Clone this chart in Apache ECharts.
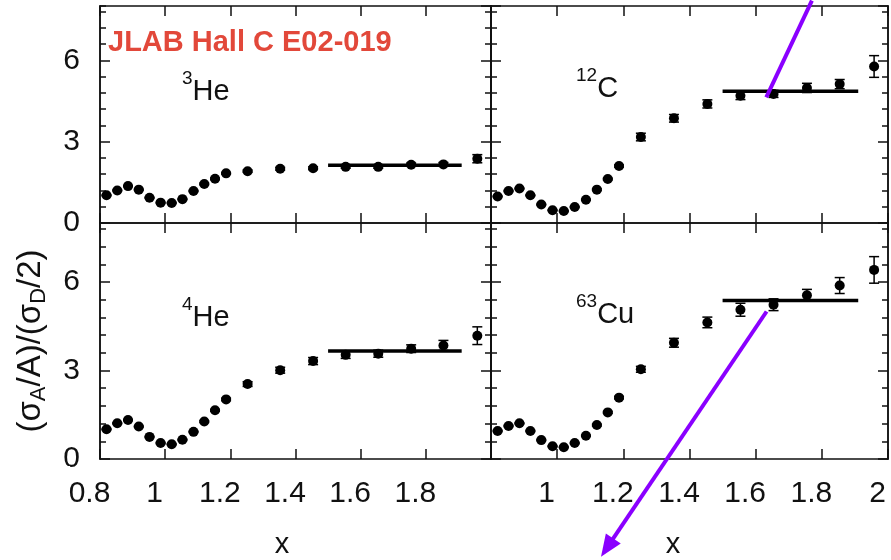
<!DOCTYPE html>
<html>
<head>
<meta charset="utf-8">
<script src="https://cdn.jsdelivr.net/npm/echarts@6/dist/echarts.min.js"></script>
<style>
  html, body { margin: 0; padding: 0; background: #fff; }
  #chart { width: 891px; height: 560px; }
</style>
</head>
<body>
<div id="chart"></div>
<script>
// Bjorken-x bins shared by all four targets
const xBins = [0.82, 0.853, 0.886, 0.919, 0.952, 0.986, 1.02, 1.053, 1.087, 1.12,
               1.153, 1.187, 1.253, 1.353, 1.454, 1.554, 1.654, 1.755, 1.854, 1.958];

// Per-nucleon cross-section ratio to the deuteron, and its uncertainty
const he3Ratio = [1.02, 1.20, 1.36, 1.23, 0.93, 0.75, 0.74, 0.88, 1.18, 1.44,
                  1.63, 1.83, 1.91, 2.00, 2.02, 2.07, 2.07, 2.15, 2.16, 2.37];
const he3Err   = [0.02, 0.02, 0.02, 0.02, 0.02, 0.02, 0.02, 0.02, 0.02, 0.03,
                  0.03, 0.03, 0.04, 0.05, 0.05, 0.05, 0.05, 0.06, 0.07, 0.15];

const c12Ratio = [0.98, 1.18, 1.27, 1.02, 0.68, 0.47, 0.44, 0.59, 0.86, 1.23,
                  1.62, 2.10, 3.17, 3.86, 4.39, 4.69, 4.76, 4.98, 5.12, 5.77];
const c12Err   = [0.02, 0.02, 0.02, 0.02, 0.02, 0.02, 0.02, 0.02, 0.02, 0.03,
                  0.03, 0.04, 0.14, 0.14, 0.15, 0.14, 0.13, 0.17, 0.17, 0.40];

const he4Ratio = [1.01, 1.21, 1.32, 1.10, 0.75, 0.54, 0.50, 0.65, 0.92, 1.27,
                  1.65, 2.02, 2.54, 3.01, 3.32, 3.53, 3.57, 3.74, 3.85, 4.18];
const he4Err   = [0.02, 0.02, 0.02, 0.02, 0.02, 0.02, 0.02, 0.02, 0.02, 0.03,
                  0.03, 0.04, 0.08, 0.10, 0.12, 0.12, 0.12, 0.13, 0.17, 0.30];

const cu63Ratio = [0.95, 1.12, 1.21, 0.95, 0.64, 0.43, 0.40, 0.54, 0.79, 1.15,
                   1.58, 2.08, 3.04, 3.94, 4.63, 5.06, 5.23, 5.55, 5.88, 6.41];
const cu63Err   = [0.02, 0.02, 0.02, 0.02, 0.02, 0.02, 0.02, 0.02, 0.02, 0.03,
                   0.03, 0.04, 0.10, 0.15, 0.18, 0.22, 0.20, 0.20, 0.27, 0.45];

// Plateau fits over the 1.5 < x < 1.9 region
const fitRange  = [1.5, 1.91];
const fitLevels = [2.13, 4.86, 3.66, 5.37];   // 3He, 12C, 4He, 63Cu

// Panel order: top-left, top-right, bottom-left, bottom-right
const massNumbers = ['3', '12', '4', '63'];
const elements    = ['He', 'C', 'He', 'Cu'];
const ratios      = [he3Ratio, c12Ratio, he4Ratio, cu63Ratio];
const errors      = [he3Err, c12Err, he4Err, cu63Err];

const xRange = [0.8, 2.0];
const xStep  = 0.2;
const yRange = [0, 8];
const yMajor = 3;
const yMinor = 0.6;

const FONT = '"Liberation Sans", Arial, Helvetica, sans-serif';
const INK = '#111';
const VIOLET = '#8a00ff';

const grids = [
  { left: 100, top: 6,   width: 391, height: 217 },
  { left: 491, top: 6,   width: 397, height: 217 },
  { left: 100, top: 223, width: 391, height: 237 },
  { left: 491, top: 223, width: 397, height: 237 }
];

const frameLine = { show: true, onZero: false, lineStyle: { color: INK, width: 1.5 } };
const tickStyle = { color: INK, width: 1.5 };

const xAxis = [];
const yAxis = [];
grids.forEach((g, i) => {
  const bottomRow = i >= 2;
  const leftCol = i % 2 === 0;
  const xBase = {
    gridIndex: i, type: 'value', min: xRange[0], max: xRange[1], interval: xStep,
    splitLine: { show: false }, axisLine: frameLine,
    axisTick: { show: true, inside: true, length: 10, lineStyle: tickStyle }
  };
  xAxis.push(Object.assign({}, xBase, {
    position: 'bottom',
    axisLabel: bottomRow ? {
      show: true, fontSize: 30, color: INK, fontFamily: FONT, margin: 20,
      padding: [0, 21, 0, 0], showMinLabel: leftCol, showMaxLabel: !leftCol
    } : { show: false },
    name: bottomRow ? 'x' : '',
    nameLocation: 'middle', nameGap: 71,
    nameTextStyle: { fontSize: 29, color: INK, fontFamily: FONT, padding: [0, leftCol ? 27 : 33, 0, 0] }
  }));
  xAxis.push(Object.assign({}, xBase, { position: 'top', axisLabel: { show: false } }));

  const yBase = {
    gridIndex: i, type: 'value', min: yRange[0], max: yRange[1],
    splitLine: { show: false }, axisLine: frameLine
  };
  const majorTick = { show: true, inside: true, length: 10, lineStyle: tickStyle };
  const minorTick = { show: true, inside: true, length: 6, lineStyle: tickStyle };
  const leftMajor = Object.assign({}, yBase, {
    position: 'left', interval: yMajor, axisTick: majorTick,
    axisLabel: leftCol ? {
      show: true, fontSize: 30, color: INK, fontFamily: FONT, margin: 20, showMaxLabel: false
    } : { show: false }
  });
  if (i === 2) {
    Object.assign(leftMajor, {
      name: '{m|(σ}{s|A}{m|/A)/(σ}{s|D}{m|/2)}',
      nameLocation: 'middle', nameGap: 50, nameRotate: 90,
      nameTextStyle: {
        rich: {
          m: { fontSize: 33, lineHeight: 38, color: INK, fontFamily: FONT },
          s: { fontSize: 22, lineHeight: 20, verticalAlign: 'bottom', color: INK, fontFamily: FONT }
        }
      }
    });
  }
  yAxis.push(leftMajor);
  yAxis.push(Object.assign({}, yBase, { position: 'left', interval: yMinor, axisTick: minorTick, axisLabel: { show: false } }));
  yAxis.push(Object.assign({}, yBase, { position: 'right', interval: yMajor, axisTick: majorTick, axisLabel: { show: false } }));
  yAxis.push(Object.assign({}, yBase, { position: 'right', interval: yMinor, axisTick: minorTick, axisLabel: { show: false } }));
});

// Vertical error bar with short caps
function renderErrorBar(params, api) {
  const x = api.value(0);
  const lo = api.coord([x, api.value(1)]);
  const hi = api.coord([x, api.value(2)]);
  const hw = 5;
  const style = { stroke: '#000', lineWidth: 1.5 };
  return {
    type: 'group',
    children: [
      { type: 'line', shape: { x1: hi[0], y1: hi[1], x2: lo[0], y2: lo[1] }, style },
      { type: 'line', shape: { x1: hi[0] - hw, y1: hi[1], x2: hi[0] + hw, y2: hi[1] }, style },
      { type: 'line', shape: { x1: lo[0] - hw, y1: lo[1], x2: lo[0] + hw, y2: lo[1] }, style }
    ]
  };
}

const series = [];
ratios.forEach((r, i) => {
  const xi = 2 * i, yi = 4 * i;
  series.push({
    type: 'scatter', xAxisIndex: xi, yAxisIndex: yi,
    symbol: 'circle', symbolSize: 10, itemStyle: { color: '#000', opacity: 1 }, z: 3,
    data: xBins.map((x, k) => [x, r[k]])
  });
  series.push({
    type: 'custom', xAxisIndex: xi, yAxisIndex: yi, z: 2,
    renderItem: renderErrorBar,
    encode: { x: 0, y: [1, 2] },
    data: xBins.map((x, k) => [x, r[k] - errors[i][k], r[k] + errors[i][k]])
  });
  series.push({
    type: 'line', xAxisIndex: xi, yAxisIndex: yi, z: 4,
    symbol: 'none', lineStyle: { color: '#000', width: 3.5 },
    data: fitRange.map(x => [x, fitLevels[i]])
  });
});

// Target labels: mass number as a superscript
const labelPos = [[182, 69], [576, 66], [182, 295], [576, 292]];
const titles = [{
  text: 'JLAB Hall C E02-019', left: 108, top: 28, padding: 0,
  textStyle: { color: '#e2483a', fontSize: 29, fontWeight: 'bold', fontFamily: FONT }
}];
massNumbers.forEach((a, i) => {
  titles.push({
    text: '{sup|' + a + '}{main|' + elements[i] + '}',
    left: labelPos[i][0], top: labelPos[i][1], padding: 0,
    textStyle: {
      fontWeight: 'normal',
      rich: {
        sup: { fontSize: 19, lineHeight: 20, verticalAlign: 'top', color: INK, fontFamily: FONT, fontWeight: 'normal' },
        main: { fontSize: 29, lineHeight: 46, color: INK, fontFamily: FONT, fontWeight: 'normal' }
      }
    }
  });
});

const chart = echarts.init(document.getElementById('chart'), null, { renderer: 'canvas' });
chart.setOption({
  animation: false,
  backgroundColor: '#fff',
  title: titles,
  grid: grids,
  xAxis: xAxis,
  yAxis: yAxis,
  series: series
});

// Annotation arrows, anchored in the 12C and 63Cu panel coordinates
const topArrow    = { series: 3, from: [1.77, 8.2],  to: [1.632, 4.63] };
const bottomArrow = { series: 9, from: [1.633, 5.0], to: [1.1325, -3.31] };

function px(a, p) { return chart.convertToPixel({ seriesIndex: a.series }, p); }

const t0 = px(topArrow, topArrow.from), t1 = px(topArrow, topArrow.to);
const b0 = px(bottomArrow, bottomArrow.from), b1 = px(bottomArrow, bottomArrow.to);
const dx = b1[0] - b0[0], dy = b1[1] - b0[1];
const len = Math.hypot(dx, dy);
const ux = dx / len, uy = dy / len;
const headLen = 22, headHalf = 9;
const baseX = b1[0] - ux * headLen, baseY = b1[1] - uy * headLen;

chart.setOption({
  graphic: [
    {
      type: 'rect', z: 50, silent: true,
      shape: { x: 20, y: 466, width: 50, height: 12 },
      style: { fill: '#fff' }
    },
    {
      type: 'line', z: 100, silent: true,
      shape: { x1: t0[0], y1: t0[1], x2: t1[0], y2: t1[1] },
      style: { stroke: VIOLET, lineWidth: 4 }
    },
    {
      type: 'line', z: 100, silent: true,
      shape: { x1: b0[0], y1: b0[1], x2: baseX + ux * 4, y2: baseY + uy * 4 },
      style: { stroke: VIOLET, lineWidth: 4 }
    },
    {
      type: 'polygon', z: 100, silent: true,
      shape: { points: [
        [b1[0], b1[1]],
        [baseX - uy * headHalf, baseY + ux * headHalf],
        [baseX + uy * headHalf, baseY - ux * headHalf]
      ] },
      style: { fill: VIOLET }
    }
  ]
});
</script>
</body>
</html>
